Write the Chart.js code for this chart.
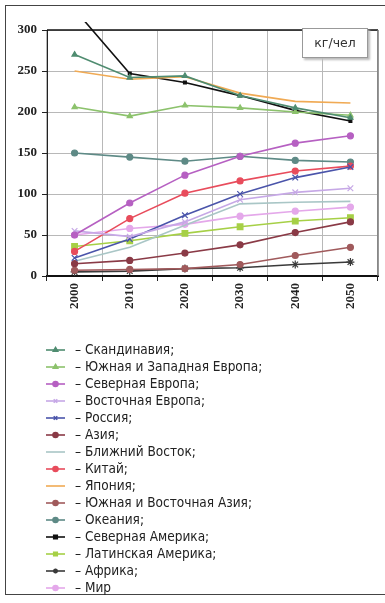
<!DOCTYPE html>
<html>
<head>
<meta charset="utf-8">
<script src="https://cdn.jsdelivr.net/npm/chart.js@4/dist/chart.umd.min.js"></script>
<style>
  body { margin: 0; background: #fff; width: 385px; height: 603px; overflow: hidden; position: relative; }
  #frame { position: absolute; left: 5px; top: 5px; width: 400px; height: 588px; border: 1.5px solid #444; border-right: none; }
  #wrap { position: absolute; left: 0; top: 0; width: 385px; height: 330px; }
  #unit { position: absolute; left: 302px; top: 28px; width: 64px; height: 28px; background: #fff;
          border: 1px solid #999; box-shadow: 2px 2px 2px #bbb; font: 12.5px 'DejaVu Sans', sans-serif;
          color: #333; text-align: center; line-height: 28px; }
  #legend { position: absolute; left: 44px; top: 341px; font: 13.5px 'DejaVu Sans Condensed', 'Noto Sans', sans-serif; color: #222; }
  .row { height: 17px; line-height: 17px; display: flex; align-items: center; }
  .row canvas { margin-right: 9px; }
</style>
</head>
<body>
<div id="frame"></div>
<div id="wrap"><canvas id="chart"></canvas></div>
<div id="unit">кг/чел</div>
<div id="legend"></div>
<script>
// years on the x axis
var years = ['2000', '2010', '2020', '2030', '2040', '2050'];

// kg per person
var scandinavia   = [270, 242, 244, 220, 205, 193];
var southWestEu   = [206, 195, 208, 205, 200, 196];
var northEu       = [50, 89, 123, 146, 162, 171];
var eastEu        = [55, 48, 66, 93, 102, 107];
var russia        = [22, 45, 74, 100, 120, 133];
var asia          = [15, 19, 28, 38, 53, 66];
var middleEast    = [18, 35, 62, 88, 90, 91];
var china         = [30, 70, 101, 116, 128, 134];
var japan         = [250, 240, 243, 223, 213, 211];
var southEastAsia = [7, 8, 9, 14, 25, 35];
var oceania       = [150, 145, 140, 146, 141, 139];
var northAmerica  = [325, 247, 236, 220, 202, 189];
var latinAmerica  = [36, 43, 52, 60, 67, 71];
var africa        = [5, 6, 9, 10, 14, 17];
var world         = [50, 58, 63, 73, 79, 84];

var names = ['Скандинавия;', 'Южная и Западная Европа;', 'Северная Европа;', 'Восточная Европа;',
  'Россия;', 'Азия;', 'Ближний Восток;', 'Китай;', 'Япония;', 'Южная и Восточная Азия;',
  'Океания;', 'Северная Америка;', 'Латинская Америка;', 'Африка;', 'Мир'];
var values = [scandinavia, southWestEu, northEu, eastEu, russia, asia, middleEast, china, japan,
  southEastAsia, oceania, northAmerica, latinAmerica, africa, world];

var colors = ['#4f8c70', '#8cc26c', '#b660c2', '#c6a8e6', '#4a54aa', '#8a3a46', '#a9c6c6', '#e84c5c',
  '#f0aa54', '#a05a5c', '#5e8a86', '#111111', '#a6d046', '#3a3a3a', '#e4a8ea'];
var markers = ['triangle', 'triangle', 'circle', 'crossRot', 'crossRot', 'circle', false, 'circle',
  false, 'circle', 'circle', 'rect', 'rect', 'star', 'circle'];
var radii = [3, 3, 3, 4, 4, 3, 0, 3, 0, 3, 3, 2, 4, 4, 3];

var datasets = names.map(function(n, i) {
  return {
    label: n,
    data: values[i],
    borderColor: colors[i],
    backgroundColor: colors[i],
    borderWidth: 1.6,
    pointStyle: markers[i] || 'circle',
    pointRadius: radii[i],
    pointBorderWidth: 1.2,
    tension: 0,
    clip: i === 11 ? { left: 0, top: 8, right: 0, bottom: 0 } : 0
  };
});

// black top edge and grey right edge of the plot
var frameLines = {
  id: 'frameLines',
  afterDatasetsDraw: function(chart) {
    var a = chart.chartArea, ctx = chart.ctx;
    ctx.save();
    ctx.lineWidth = 1.5;
    ctx.strokeStyle = '#111';
    ctx.beginPath(); ctx.moveTo(a.left, a.top); ctx.lineTo(a.right, a.top); ctx.stroke();
    ctx.strokeStyle = '#777';
    ctx.beginPath(); ctx.moveTo(a.right, a.top); ctx.lineTo(a.right, a.bottom); ctx.stroke();
    ctx.restore();
  }
};

var tickFont = { family: 'Liberation Serif', size: 13, weight: 'bold' };

new Chart(document.getElementById('chart'), {
  type: 'line',
  data: { labels: years, datasets: datasets },
  plugins: [frameLines],
  options: {
    responsive: true,
    maintainAspectRatio: false,
    animation: false,
    layout: { padding: { top: 30, right: 7, left: 0, bottom: 0 } },
    plugins: { legend: { display: false }, tooltip: { enabled: false } },
    scales: {
      x: {
        offset: true,
        grid: { offset: true, color: '#b8b8b8', tickColor: '#222', tickLength: 5 },
        border: { color: '#111', width: 2 },
        ticks: { font: tickFont, color: '#222', minRotation: 90, maxRotation: 90, padding: 2 },
        afterFit: function(s) { s.height = 54; }
      },
      y: {
        min: 0, max: 300,
        ticks: { stepSize: 50, font: tickFont, color: '#222', padding: 5 },
        grid: { color: '#b8b8b8', tickColor: '#222', tickLength: 5 },
        border: { color: '#222', width: 1 },
        afterFit: function(s) { s.width = 47; }
      }
    }
  }
});

// legend built from the same series
var legend = document.getElementById('legend');
names.forEach(function(n, i) {
  var row = document.createElement('div');
  row.className = 'row';
  var c = document.createElement('canvas');
  c.width = 22; c.height = 10;
  var g = c.getContext('2d');
  g.strokeStyle = colors[i]; g.fillStyle = colors[i]; g.lineWidth = 1.6;
  g.beginPath(); g.moveTo(2, 5); g.lineTo(21, 5); g.stroke();
  if (markers[i]) {
    Chart.helpers.drawPoint(g, { pointStyle: markers[i], radius: 2.5, rotation: 0, borderWidth: 1 }, 11.5, 5);
  }
  row.appendChild(c);
  var t = document.createElement('span');
  t.textContent = '– ' + n;
  row.appendChild(t);
  legend.appendChild(row);
});
</script>
</body>
</html>
